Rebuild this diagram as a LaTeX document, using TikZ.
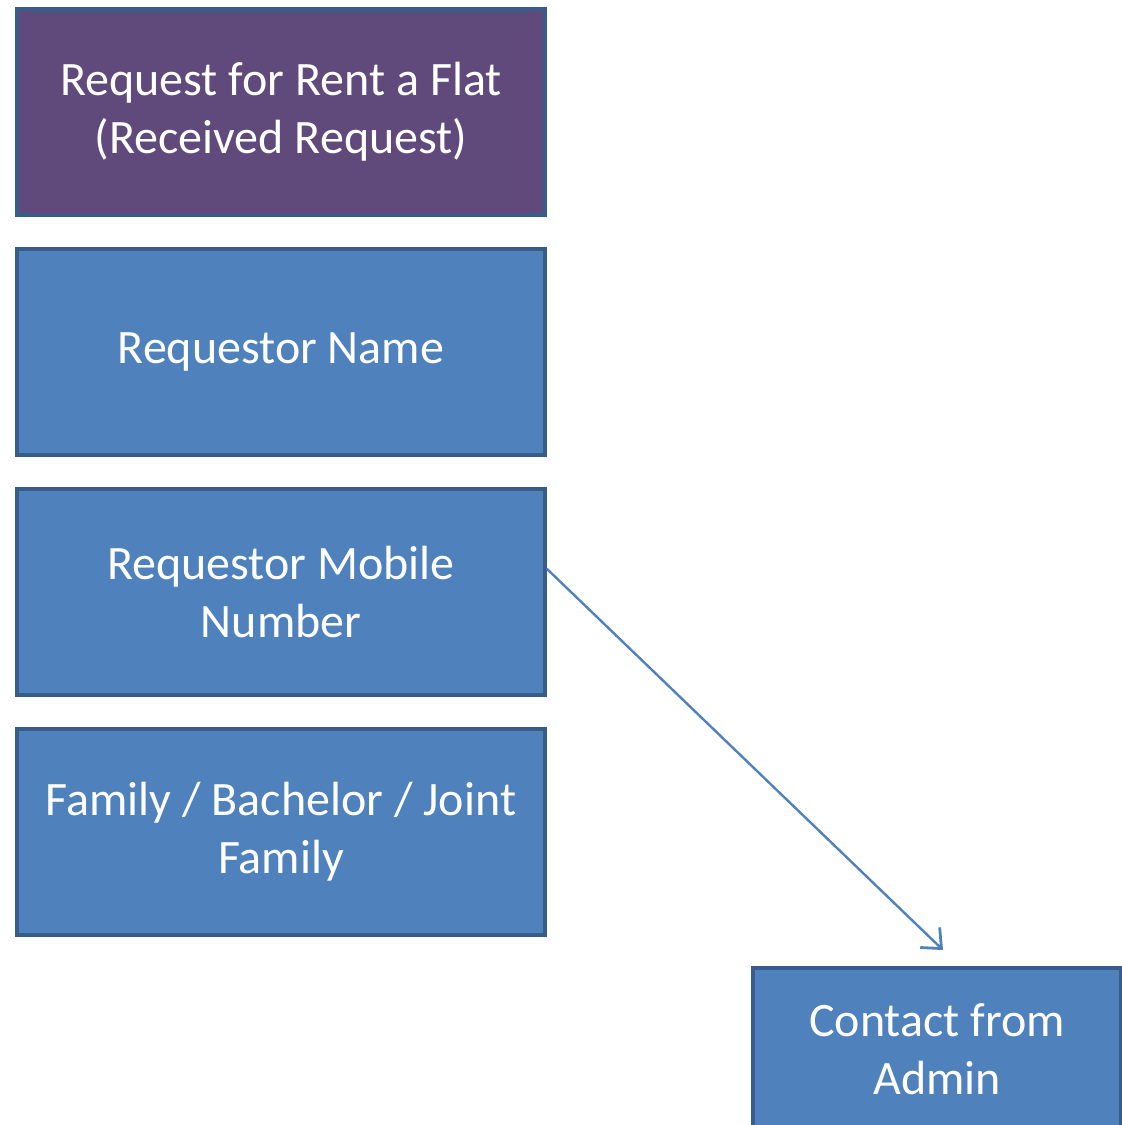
\documentclass[tikz,border=0pt]{standalone}
\usepackage{fontspec}
\setmainfont{Carlito}
\usetikzlibrary{arrows.meta}
\definecolor{boxblue}{HTML}{4F81BD}
\definecolor{boxpurple}{HTML}{604A7B}
\definecolor{boxline}{HTML}{385D8A}
\tikzset{
	field/.style={draw=boxline, line width=1.8pt, fill=boxblue, text=white, align=center,
		minimum width=264pt, minimum height=103pt, inner sep=0pt,
		font=\fontsize{24}{29}\selectfont},
}
\begin{document}
\begin{tikzpicture}[x=0.5pt, y=-0.5pt]
		\useasboundingbox (0,0) rectangle (1121,1125);
		\node[field, fill=boxpurple] (request) at (281,112) {Request for Rent a Flat\\(Received Request)};
		\node[field] (name) at (281,352) {Requestor Name};
		\node[field] (mobile) at (281,592) {Requestor Mobile\\Number};
		\node[field] (family) at (281,832) {Family / Bachelor / Joint\\Family};
		\node[field, minimum width=184pt, minimum height=81pt] (admin) at (937,1049) {Contact from\\Admin};
		\coordinate (tip) at (943,950);
		\draw[boxblue, line width=1.2pt, -{Straight Barb[length=8pt, width=14pt, line width=1.4pt]}] (mobile.5) -- (tip);
	\end{tikzpicture}
\end{document}
